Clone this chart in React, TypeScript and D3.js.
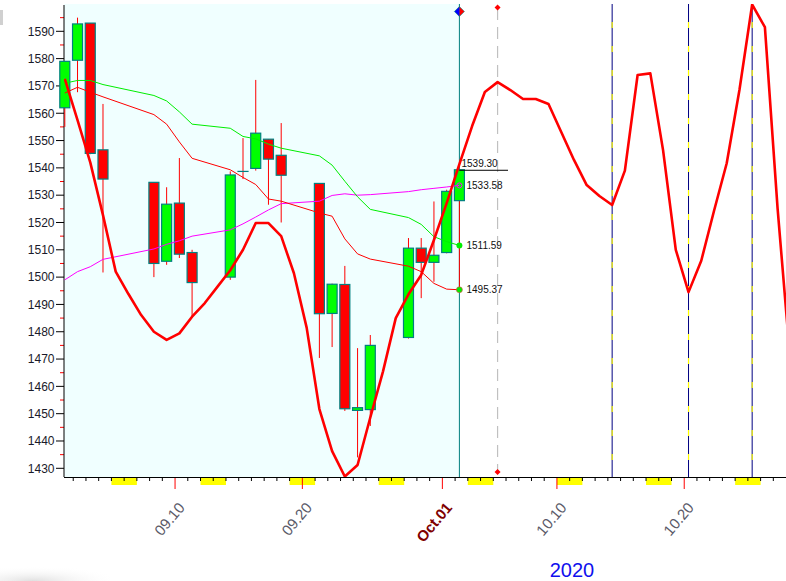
import React from "react";
import * as d3 from "d3";

const candleDates = [
  "2020-09-01","2020-09-02","2020-09-03","2020-09-04","2020-09-08","2020-09-09","2020-09-10","2020-09-11",
  "2020-09-14","2020-09-15","2020-09-16","2020-09-17","2020-09-18","2020-09-21","2020-09-22","2020-09-23",
  "2020-09-24","2020-09-25","2020-09-28","2020-09-29","2020-09-30","2020-10-01","2020-10-02",
];
const openVals = [1562, 1579.4, 1593, 1546.6, 1534.7, 1505.8, 1527.1, 1509, 1500, 1538.7, 1539.8, 1550.5, 1544.6, 1534.3, 1486.7, 1497.3, 1451.2, 1451.5, 1477.9, 1510.6, 1505.4, 1509, 1528];
const closeVals = [1579, 1592.7, 1545.3, 1535.9, 1505, 1526.7, 1508.4, 1498, 1537.4, 1538.7, 1552.7, 1543.2, 1537.3, 1486.6, 1497.4, 1451.8, 1452.2, 1475, 1510.6, 1505.4, 1508, 1531.4, 1539.3];
const highVals = [1579, 1595, 1593, 1563.4, 1534.7, 1532.9, 1543.6, 1510, 1538.7, 1550.9, 1572.2, 1550.5, 1556.4, 1534.3, 1497.6, 1504.1, 1474, 1478.8, 1514.3, 1514.3, 1527.7, 1532, 1539.3];
const lowVals = [1555, 1567.7, 1545, 1501.7, 1500, 1504.5, 1507, 1485.8, 1499, 1535.9, 1539, 1526.5, 1520, 1470.4, 1474.4, 1451, 1434, 1445.5, 1477.5, 1492.3, 1498.3, 1508.7, 1495];

const greenLine = [1571, 1572, 1572, 1570.5, 1566.5, 1564.5, 1560.5, 1556, 1554.5, 1551.5, 1550.6, 1548.7, 1547.2, 1544.4, 1541, 1535.1, 1529.4, 1524.8, 1521.8, 1519.3, 1514.8, 1513, 1511.59];
const redThinLine = [1567.4, 1569.5, 1567.7, 1566, 1559.5, 1556, 1549.5, 1543.5, 1539.3, 1536.5, 1533.9, 1528.6, 1527.8, 1523.5, 1522.3, 1514, 1508.5, 1506.6, 1504, 1502, 1497.7, 1495.6, 1495.37];
const magentaLine = [1499, 1502, 1503.8, 1506.5, 1510.3, 1512, 1513.3, 1515, 1517.3, 1519.5, 1522, 1524.6, 1526.9, 1527.8, 1529.9, 1530.5, 1530, 1530.2, 1531.3, 1532, 1532.5, 1533, 1533.58];

const cycleStart = "2020-09-01";
const cycleVals = [
  1572.6, 1557.5, 1542, 1522.7, 1502, 1493.8, 1486.1, 1480, 1477, 1479.4,
  1485.5, 1490.5, 1496.5, 1502.5, 1510, 1519.8, 1519.8, 1515, 1501.4, 1481.5,
  1451.7, 1436.3, 1427, 1431.2, 1448.6, 1465.5, 1485, 1493.7, 1500.8, 1513.6,
  1527.1, 1541.4, 1555.3, 1567.8, 1571.4, 1568.5, 1565.2, 1565.2, 1563.4, 1553.1,
  1542.9, 1533.7, 1529.7, 1526.4, 1539, 1574, 1574.6, 1546.5, 1510, 1494.5,
  1506, 1524.2, 1541.7, 1568.5, 1599.8, 1591.5, 1525, 1469,
];

const yTicks = [1430, 1440, 1450, 1460, 1470, 1480, 1490, 1500, 1510, 1520, 1530, 1540, 1550, 1560, 1570, 1580, 1590];
const xLabelDates = ["2020-09-10", "2020-09-20", "2020-10-01", "2020-10-10", "2020-10-20"];
const xLabels = ["09.10", "09.20", "Oct.01", "10.10", "10.20"];
const cycleMarkDates = ["2020-10-14", "2020-10-20", "2020-10-25"];
const currentDate = "2020-10-02";
const projDate = "2020-10-05";
const valueLabels = ["1539.30", "1533.58", "1511.59", "1495.37"];
const valueLabelVals = [1539.3, 1533.58, 1511.59, 1495.37];
const yearLabel = "2020";

const FONT = "Arial, 'Liberation Sans', sans-serif";

export default function App() {
  const W = 786, H = 581;
  const parse = d3.utcParse("%Y-%m-%d");
  const x = d3.scaleUtc().domain([parse("2020-09-01")!, parse("2020-10-02")!]).range([64.8, 459.4]);
  const y = d3.scaleLinear().domain([1590, 1430]).range([31.3, 468.3]);
  const left = 64, top = 4, bottom = 477, right = 786;
  const tickOff = -4.3;
  const halfW = 5;

  const cDates = candleDates.map((d) => parse(d)!);
  const cycleDates = cycleVals.map((_, i) => d3.utcDay.offset(parse(cycleStart)!, i));
  const allDays = d3.utcDay.range(parse("2020-09-01")!, parse("2020-10-29")!);

  const lineGen = d3.line<[Date, number]>().x((d) => x(d[0])).y((d) => y(d[1]));
  const zip = (vals: number[]) => cDates.map((d, i) => [d, vals[i]] as [Date, number]);
  const xCur = x(parse(currentDate)!);
  const xProj = x(parse(projDate)!);

  const minorTicks = d3.range(1435, 1600, 10);

  return (
    <svg width={W} height={H} style={{ position: "absolute", left: 0, top: 0, background: "#fff" }} fontFamily={FONT}>
      <defs>
        <clipPath id="plotClip">
          <rect x={left} y={top} width={right - left} height={bottom - top} />
        </clipPath>
        <radialGradient id="shadow" cx="0.3" cy="1" r="0.8">
          <stop offset="0" stopColor="#d8d8d8" stopOpacity="0.8" />
          <stop offset="1" stopColor="#ffffff" stopOpacity="0" />
        </radialGradient>
      </defs>
      <rect x={0} y={10} width={3} height={15} fill="#d0d0d0" />
      <rect x={0} y={562} width={110} height={19} fill="url(#shadow)" />
      {/* background */}
      <rect x={left} y={top} width={xCur - left} height={bottom - top} fill="#F0FFFF" />

      {/* weekend blocks */}
      {allDays.filter((d) => d.getUTCDay() === 6).map((d, i) => {
        const x0 = x(d) + tickOff;
        const x1 = x(d3.utcDay.offset(d, 2)) + tickOff;
        return <rect key={"we" + i} x={x0} y={bottom} width={Math.min(x1, right) - x0} height={8} fill="#FFFF00" />;
      })}

      {/* x ticks */}
      {allDays.map((d, i) => {
        const tx = x(d) + tickOff;
        if (tx < left + 2 || tx > right) return null;
        const isMajor = xLabelDates.some((s) => +parse(s)! === +d);
        return (
          <line key={"xt" + i} x1={tx} x2={tx} y1={bottom} y2={isMajor ? 489 : 481}
            stroke={isMajor ? "#ff0000" : "#000"} strokeWidth={1} />
        );
      })}
      {xLabelDates.map((s, i) => {
        const tx = x(parse(s)!) + tickOff;
        const isOct = xLabels[i] === "Oct.01";
        return (
          <text key={"xl" + i} transform={`translate(${tx + 10.5},${508}) rotate(-50)`} textAnchor="end"
            fontSize={15} fontWeight={isOct ? "bold" : "normal"} fill={isOct ? "#800000" : "#5a5a68"}>
            {xLabels[i]}
          </text>
        );
      })}
      <text x={572} y={577} textAnchor="middle" fontSize={20} fill="#1010ee">{yearLabel}</text>

      {/* y axis */}
      {minorTicks.map((v) => (
        <line key={"mt" + v} x1={60} x2={left} y1={y(v)} y2={y(v)} stroke="#ff0000" />
      ))}
      {yTicks.map((v) => (
        <g key={"yt" + v}>
          <line x1={56} x2={left} y1={y(v)} y2={y(v)} stroke="#000" />
          <text x={54.5} y={y(v)} dy="0.36em" textAnchor="end" fontSize={12} fill="#1a1a2a">{v}</text>
        </g>
      ))}
      <line x1={left} x2={left} y1={5} y2={bottom} stroke="#000" />
      <line x1={left} x2={right} y1={bottom + 0.5} y2={bottom + 0.5} stroke="#000" />

      {/* cycle marker lines */}
      {cycleMarkDates.map((s, i) => {
        const lx = x(parse(s)!);
        return (
          <g key={"cm" + i}>
            <line x1={lx} x2={lx} y1={top} y2={bottom} stroke="#000080" strokeWidth={1} />
            <line x1={lx} x2={lx} y1={top} y2={bottom} stroke="#FFFF00" strokeWidth={1.2}
              strokeDasharray="6 18" strokeDashoffset={6} />
          </g>
        );
      })}

      {/* projection grey line */}
      <line x1={xProj} x2={xProj} y1={8} y2={472} stroke="#c0c0c0" strokeWidth={1.2} strokeDasharray="12 7" />
      <path d={`M${xProj},${4.5} l3,3 l-3,3 l-3,-3 z`} fill="#ff0000" />
      <path d={`M${xProj},${469} l3,3 l-3,3 l-3,-3 z`} fill="#ff0000" />

      {/* current line */}
      <line x1={xCur} x2={xCur} y1={top} y2={bottom} stroke="#008080" strokeWidth={1} />

      {/* candles */}
      {cDates.map((d, i) => {
        const cx = x(d);
        const o = openVals[i], c = closeVals[i];
        const up = c >= o;
        const yt = y(Math.max(o, c)), yb = y(Math.min(o, c));
        return (
          <g key={"c" + i}>
            <line x1={cx} x2={cx} y1={y(highVals[i])} y2={y(lowVals[i])} stroke="#ff0000" strokeWidth={1} />
            <rect x={cx - halfW} y={yt} width={halfW * 2} height={Math.max(yb - yt, 0.01)}
              fill={up ? "#00ff00" : "#ff0000"} stroke="#008080" strokeWidth={1.2} />
          </g>
        );
      })}

      {/* indicator lines */}
      <g clipPath="url(#plotClip)" fill="none">
        <path d={lineGen(zip(magentaLine)) || ""} stroke="#ff00ff" strokeWidth={1} />
        <path d={lineGen(zip(greenLine)) || ""} stroke="#00ee00" strokeWidth={1} />
        <path d={lineGen(zip(redThinLine)) || ""} stroke="#ff0000" strokeWidth={1} />
        <path d={lineGen(cycleDates.map((d, i) => [d, cycleVals[i]] as [Date, number])) || ""}
          stroke="#ff0000" strokeWidth={2.6} strokeLinejoin="round" />
      </g>

      {/* current markers and labels */}
      <line x1={xCur} x2={508} y1={y(valueLabelVals[0]) + 0.5} y2={y(valueLabelVals[0]) + 0.5} stroke="#000" />
      <circle cx={xCur} cy={y(valueLabelVals[1])} r={2.5} fill="none" stroke="#ff00ff" strokeWidth={1} />
      <circle cx={xCur} cy={y(valueLabelVals[2])} r={3} fill="#00ee00" />
      <circle cx={xCur} cy={y(valueLabelVals[3])} r={3} fill="#00ee00" stroke="#ee4444" strokeWidth={0.6} />
      <text x={461.5} y={y(valueLabelVals[0]) - 3} fontSize={10} fill="#111">{valueLabels[0]}</text>
      {[1, 2, 3].map((k) => (
        <text key={"vl" + k} x={466.5} y={y(valueLabelVals[k])} dy="0.36em" fontSize={10} fill="#111">{valueLabels[k]}</text>
      ))}
      <path d={`M${xCur},${6.5} l5,5 l-5,5 z`} fill="#ff0000" />
      <path d={`M${xCur},${6.5} l-5,5 l5,5 z`} fill="#0000ff" />
      <path d={`M${xCur},${6.5} l5,5 l-5,5 l-5,-5 z`} fill="none" stroke="#008080" strokeWidth={0.6} />
    </svg>
  );
}
